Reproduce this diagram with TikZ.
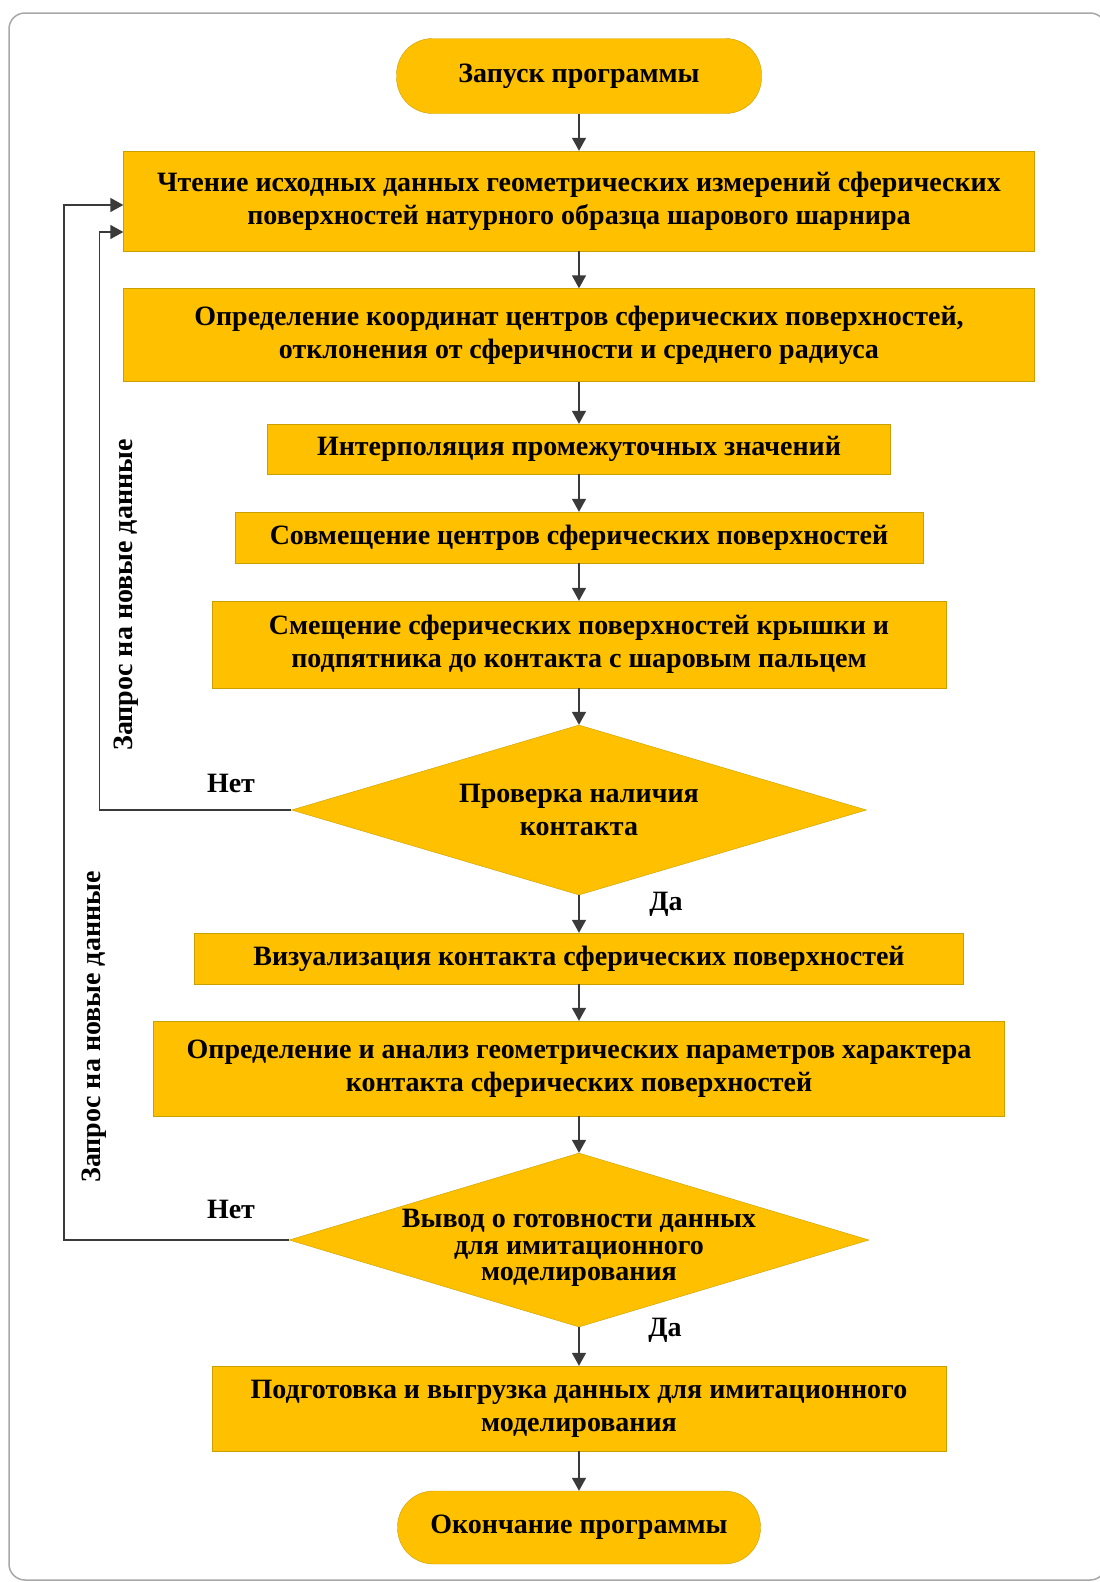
\documentclass[tikz,border=0pt]{standalone}
\usepackage{fontspec}
\setmainfont{Liberation Serif}
\usetikzlibrary{shapes.geometric,arrows.meta,positioning}

\definecolor{boxfill}{HTML}{FFC000}
\definecolor{boxline}{HTML}{C9A000}
\definecolor{framegray}{HTML}{A8A8A8}
\definecolor{arrgray}{HTML}{3A3A3A}

\tikzset{
  block/.style={draw=boxline, fill=boxfill, align=center, inner sep=0pt,
    font=\bfseries\fontsize{28}{33}\selectfont},
  term/.style={block, rounded corners=36pt},
  decision/.style={diamond, draw=boxline, fill=boxfill, inner sep=0pt},
  arr/.style={arrgray, -{Triangle[length=13pt,width=14pt]}, line width=1.5pt},
  lbl/.style={font=\bfseries\fontsize{28}{33}\selectfont},
}

\begin{document}
\begin{tikzpicture}[x=1pt,y=-1pt]
    \useasboundingbox (0,0) rectangle (1100,1582);
    \draw[framegray, line width=1.5pt, rounded corners=16pt] (9,13) rectangle (1106,1580);

    % main column
    \node[term, minimum width=365, minimum height=75] (start) at (579,76) {Запуск программы};
    \node[block, minimum width=911, minimum height=100] (read) at (579,201)
        {Чтение исходных данных геометрических измерений сферических\\поверхностей натурного образца шарового шарнира};
    \node[block, minimum width=911, minimum height=93] (centres) at (579,335)
        {Определение координат центров сферических поверхностей,\\отклонения от сферичности и среднего радиуса};
    \node[block, minimum width=623, minimum height=50] (interp) at (579,449)
        {Интерполяция промежуточных значений};
    \node[block, minimum width=688, minimum height=51] (match) at (579,537.5)
        {Совмещение центров сферических поверхностей};
    \node[block, minimum width=734, minimum height=87] (shift) at (579,644.5)
        {Смещение сферических поверхностей крышки и\\подпятника до контакта с шаровым пальцем};
    \node[decision, minimum width=575, minimum height=170] (chk1) at (579,810) {};
    \node[lbl, align=center] (chk1txt) at (chk1) {Проверка наличия\\контакта};
    \node[block, minimum width=769, minimum height=51] (vis) at (579,958.5)
        {Визуализация контакта сферических поверхностей};
    \node[block, minimum width=851, minimum height=95] (anal) at (579,1068.5)
        {Определение и анализ геометрических параметров характера\\контакта сферических поверхностей};
    \node[decision, minimum width=580, minimum height=174] (chk2) at (579,1240) {};
    \node[font=\bfseries\fontsize{28}{26.5}\selectfont, align=center] (chk2txt) at (579,1248)
        {Вывод о готовности данных\\для имитационного\\моделирования};
    \node[block, minimum width=734, minimum height=85] (prep) at (579,1408.5)
        {Подготовка и выгрузка данных для имитационного\\моделирования};
    \node[term, minimum width=363, minimum height=73] (stop) at (579,1527.5) {Окончание программы};

    % straight arrows
    \foreach \a/\b in {start/read, read/centres, centres/interp, interp/match,
                       match/shift, shift/chk1, chk1/vis, vis/anal, anal/chk2,
                       chk2/prep, prep/stop}
        \draw[arr] (\a.south) -- (\b.north);

    % feedback loops
    \draw[arr] (chk1.west) -- ++(-192,0) |- ([yshift=-31pt]read.west);
    \draw[arr] (chk2.west) -- ++(-225,0) |- ([yshift=-4pt]read.west);

    \node[lbl] (no1) at (231,783) {Нет};
    \node[lbl] (no2) at (231,1209) {Нет};
    \node[lbl] (yes1) at (666,904) {Да};
    \node[lbl] (yes2) at (665,1330) {Да};
    \node[lbl, rotate=90] (req1) at (126,595) {Запрос на новые данные};
    \node[lbl, rotate=90] (req2) at (94,1027) {Запрос на новые данные};
\end{tikzpicture}
\end{document}
